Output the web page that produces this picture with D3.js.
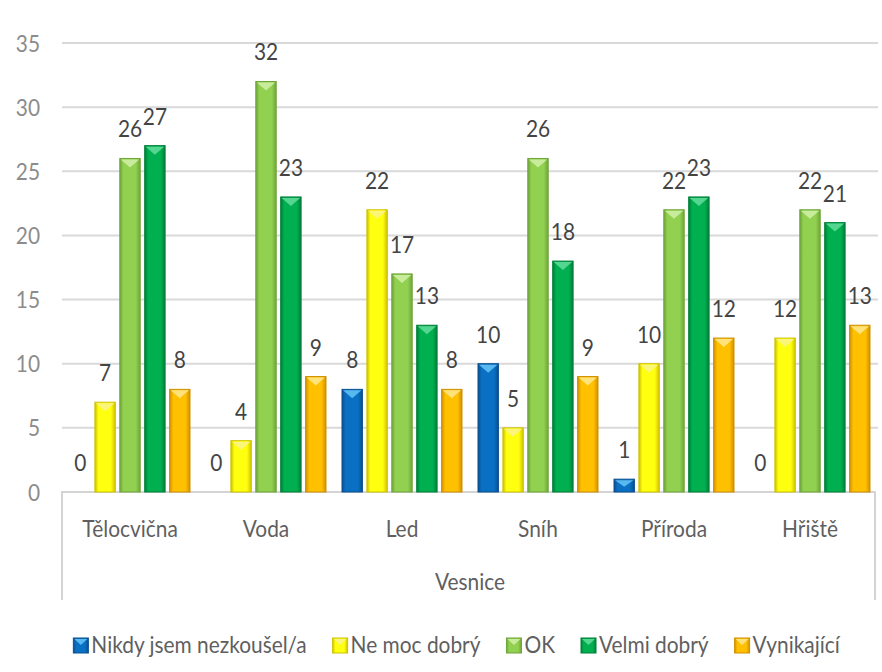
<!DOCTYPE html>
<html>
<head>
<meta charset="utf-8">
<script src="https://cdn.jsdelivr.net/npm/d3@7"></script>
<style>
  body { margin: 0; background: #fff; }
  text { font-family: Lato, "Open Sans", sans-serif; }
</style>
</head>
<body>
<div id="plot"></div>
<script>
// data
var categories = ["Tělocvična", "Voda", "Led", "Sníh", "Příroda", "Hřiště"];
var seriesNames = ["Nikdy jsem nezkoušel/a", "Ne moc dobrý", "OK", "Velmi dobrý", "Vynikající"];
var nikdy = [0, 0, 8, 10, 1, 0];
var neMoc = [7, 4, 22, 5, 10, 12];
var ok = [26, 32, 17, 26, 22, 22];
var velmi = [27, 23, 13, 18, 23, 21];
var vynikajici = [8, 9, 8, 9, 12, 13];
var yTicks = [0, 5, 10, 15, 20, 25, 30, 35];
var axisTitle = "Vesnice";

var seriesValues = [nikdy, neMoc, ok, velmi, vynikajici];

// colours: main, edge, top facet
var palette = [
  { main: "#0a70c4", edge: "#0a4f8f", top: "#58b8f0" },
  { main: "#ffff10", edge: "#cfc200", top: "#fbf57a" },
  { main: "#92d050", edge: "#6fa53a", top: "#c8eb9c" },
  { main: "#00b050", edge: "#007f38", top: "#55d690" },
  { main: "#ffc000", edge: "#d09000", top: "#ffe27a" }
];

var svgWidth = 882;
var svgHeight = 672;
var SX = 0.87; // text is narrow in the reference
var FONT = 24;

var svg = d3.select("#plot")
  .append("svg")
  .attr("width", svgWidth)
  .attr("height", svgHeight);

var defs = svg.append("defs");
palette.forEach((p, i) => {
  var g = defs.append("linearGradient")
    .attr("id", "grad" + i)
    .attr("x1", "0%").attr("x2", "100%")
    .attr("y1", "0%").attr("y2", "0%");
  g.append("stop").attr("offset", "0%").attr("stop-color", p.edge);
  g.append("stop").attr("offset", "18%").attr("stop-color", p.main);
  g.append("stop").attr("offset", "78%").attr("stop-color", p.main);
  g.append("stop").attr("offset", "100%").attr("stop-color", p.edge);
});

var plotLeft = 62, plotRight = 878, plotTop = 43, plotBottom = 492;

var x0 = d3.scaleBand()
  .domain(categories)
  .range([plotLeft, plotRight])
  .padding(0);

var x1 = d3.scaleBand()
  .domain(seriesNames)
  .range([-60, 60])
  .paddingInner(0.18);

var y = d3.scaleLinear()
  .domain([0, 35])
  .range([plotBottom, plotTop]);

// narrow text helper
function addText(parent, x, yy, str, anchor, color) {
  return parent.append("text")
    .attr("transform", `translate(${x},${yy}) scale(${SX},1)`)
    .attr("text-anchor", anchor)
    .attr("font-size", FONT)
    .attr("fill", color)
    .text(str);
}

// gridlines
svg.append("g")
  .selectAll("line")
  .data(yTicks.filter(t => t > 0))
  .enter()
  .append("line")
  .attr("x1", plotLeft)
  .attr("x2", plotRight)
  .attr("y1", d => y(d))
  .attr("y2", d => y(d))
  .attr("stroke", "#d9d9d9")
  .attr("stroke-width", 2);

// y tick labels
var yAxisG = svg.append("g");
yTicks.forEach(t => {
  addText(yAxisG, 40, y(t) + 8.5, t, "end", "#8c8c8c");
});

// category axis box
var boxBottom = 600;
svg.append("path")
  .attr("d", `M${plotLeft},${boxBottom} V${plotBottom} H${plotRight - 3} V${boxBottom}`)
  .attr("fill", "none")
  .attr("stroke", "#d4d4d4")
  .attr("stroke-width", 2);

var catG = svg.append("g");
categories.forEach(c => {
  addText(catG, x0(c) + x0.bandwidth() / 2, 537, c, "middle", "#5f5f5f");
});
addText(svg, (plotLeft + plotRight) / 2, 590, axisTitle, "middle", "#5f5f5f");

// bars
var barsG = svg.append("g");
seriesNames.forEach((s, si) => {
  var vals = seriesValues[si];
  var p = palette[si];
  categories.forEach((c, ci) => {
    var v = vals[ci];
    var bx = x0(c) + x0.bandwidth() / 2 + x1(s);
    var bw = x1.bandwidth();
    var top = y(v);
    if (v > 0) {
      barsG.append("rect")
        .attr("x", bx)
        .attr("y", top)
        .attr("width", bw)
        .attr("height", y(0) - top)
        .attr("fill", `url(#grad${si})`)
        .attr("stroke", p.edge)
        .attr("stroke-width", 1);
      var th = Math.min(9, (y(0) - top) * 0.6);
      barsG.append("path")
        .attr("d", `M${bx + 1},${top + 1} L${bx + bw - 1},${top + 1} L${bx + bw / 2},${top + th} Z`)
        .attr("fill", p.top);
    }
    addText(barsG, bx + bw / 2, top - 21, v, "middle", "#444444");
  });
});

// legend
var legendG = svg.append("g");
var legendY = 653;
var items = [];
var totalW = 0;
seriesNames.forEach((s, i) => {
  var t = addText(legendG, 0, legendY, s, "start", "#5f5f5f");
  var w = t.node().getComputedTextLength() * SX;
  items.push({ t: t, w: w, i: i });
  totalW += 15 + 3 + w;
});
var gap = 26;
totalW += gap * (seriesNames.length - 1);
var lx = 456.5 - totalW / 2;
items.forEach(it => {
  var p = palette[it.i];
  legendG.append("rect")
    .attr("x", lx)
    .attr("y", legendY - 15)
    .attr("width", 15)
    .attr("height", 15)
    .attr("fill", `url(#grad${it.i})`)
    .attr("stroke", p.edge)
    .attr("stroke-width", 1);
  legendG.append("path")
    .attr("d", `M${lx + 1},${legendY - 14} L${lx + 14},${legendY - 14} L${lx + 7.5},${legendY - 8} Z`)
    .attr("fill", p.top);
  it.t.attr("transform", `translate(${lx + 18},${legendY}) scale(${SX},1)`);
  lx += 18 + it.w + gap;
});
</script>
</body>
</html>
